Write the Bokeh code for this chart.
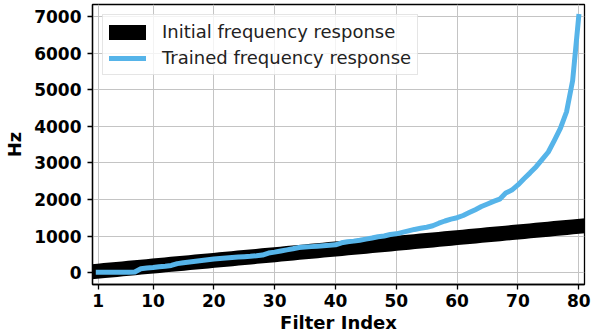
from bokeh.plotting import figure
from bokeh.models import Range1d, FixedTicker, Legend, LegendItem
from bokeh.embed import file_html
from bokeh.resources import INLINE

# Filter indices
filter_index = list(range(1, 81))

# Centre frequency (Hz) of each filter before training
initial_hz = [
    45, 61, 76, 92, 107, 123, 138, 154, 169, 185,
    200, 216, 231, 247, 262, 278, 293, 309, 324, 340,
    355, 371, 386, 402, 417, 433, 448, 464, 479, 495,
    510, 526, 541, 557, 572, 588, 603, 619, 634, 650,
    665, 681, 696, 712, 727, 743, 758, 774, 789, 805,
    820, 836, 851, 867, 882, 898, 913, 929, 944, 960,
    975, 991, 1006, 1022, 1037, 1053, 1068, 1084, 1099, 1115,
    1130, 1146, 1161, 1177, 1192, 1208, 1223, 1239, 1254, 1270,
]

# Centre frequency (Hz) of each filter after training
trained_hz = [
    15, 15, 15, 15, 15, 15, 20, 110, 130, 145,
    165, 180, 200, 250, 275, 295, 315, 335, 355, 375,
    390, 405, 420, 430, 440, 450, 465, 485, 540, 565,
    595, 625, 655, 690, 702, 715, 728, 740, 752, 765,
    820, 850, 865, 890, 920, 950, 985, 1005, 1045, 1065,
    1105, 1145, 1185, 1215, 1245, 1285, 1355, 1415, 1465, 1505,
    1565, 1645, 1725, 1810, 1880, 1950, 2010, 2180, 2260, 2400,
    2570, 2730, 2900, 3100, 3300, 3620, 3950, 4400, 5250, 7000,
]

x_ticks = [1, 10, 20, 30, 40, 50, 60, 70, 80]
y_ticks = [0, 1000, 2000, 3000, 4000, 5000, 6000, 7000]

FONT = "DejaVu Sans"

p = figure(
    width=594, height=335,
    output_backend="svg", toolbar_location=None,
    x_range=Range1d(0.05, 80.95), y_range=Range1d(-320, 7330),
    min_border_left=92, min_border_right=10,
    min_border_top=4, min_border_bottom=50,
)
p.background_fill_color = "white"
p.border_fill_color = "white"
p.outline_line_color = "black"
p.outline_line_width = 1.3

r_init = p.line(filter_index, initial_hz, line_color="black", line_width=15,
                line_cap="square", line_join="round")
r_train = p.line(filter_index, trained_hz, line_color="#56B4E9", line_width=5,
                 line_cap="square", line_join="round")

p.xaxis.ticker = FixedTicker(ticks=x_ticks)
p.yaxis.ticker = FixedTicker(ticks=y_ticks)
p.xgrid.ticker = FixedTicker(ticks=x_ticks)
p.ygrid.ticker = FixedTicker(ticks=y_ticks)

for ax in (p.xaxis[0], p.yaxis[0]):
    ax.major_label_text_font = FONT
    ax.major_label_text_font_style = "bold"
    ax.major_label_text_font_size = "17px"
    ax.major_label_text_color = "black"
    ax.axis_label_text_font = FONT
    ax.axis_label_text_font_style = "bold"
    ax.axis_label_text_font_size = "18px"
    ax.axis_label_text_color = "black"
    ax.minor_tick_line_color = None
    ax.major_tick_in = 0
    ax.major_tick_out = 5
    ax.major_tick_line_width = 1.3
    ax.major_tick_line_color = "black"
    ax.axis_line_color = "black"
    ax.axis_line_width = 1.3

p.xaxis.axis_label = "Filter Index"
p.yaxis.axis_label = "Hz"
p.xaxis.major_label_standoff = 4
p.xaxis.axis_label_standoff = 2
p.yaxis.major_label_standoff = 6
p.yaxis.axis_label_standoff = 6

for g in (p.xgrid[0], p.ygrid[0]):
    g.grid_line_color = "#c4c4c4"
    g.grid_line_width = 1

legend = Legend(
    items=[
        LegendItem(label="Initial frequency response", renderers=[r_init]),
        LegendItem(label="Trained frequency response", renderers=[r_train]),
    ],
    location="top_left",
    margin=10,
    padding=6,
    spacing=5,
    glyph_width=37,
    glyph_height=20,
    label_standoff=16,
    label_text_font=FONT,
    label_text_font_size="18px",
    label_text_color="#222222",
    border_line_color="#cccccc",
    border_line_width=1,
    background_fill_color="white",
    background_fill_alpha=0.8,
)
p.add_layout(legend, "center")

open("out.html", "w").write(file_html(p, INLINE))
